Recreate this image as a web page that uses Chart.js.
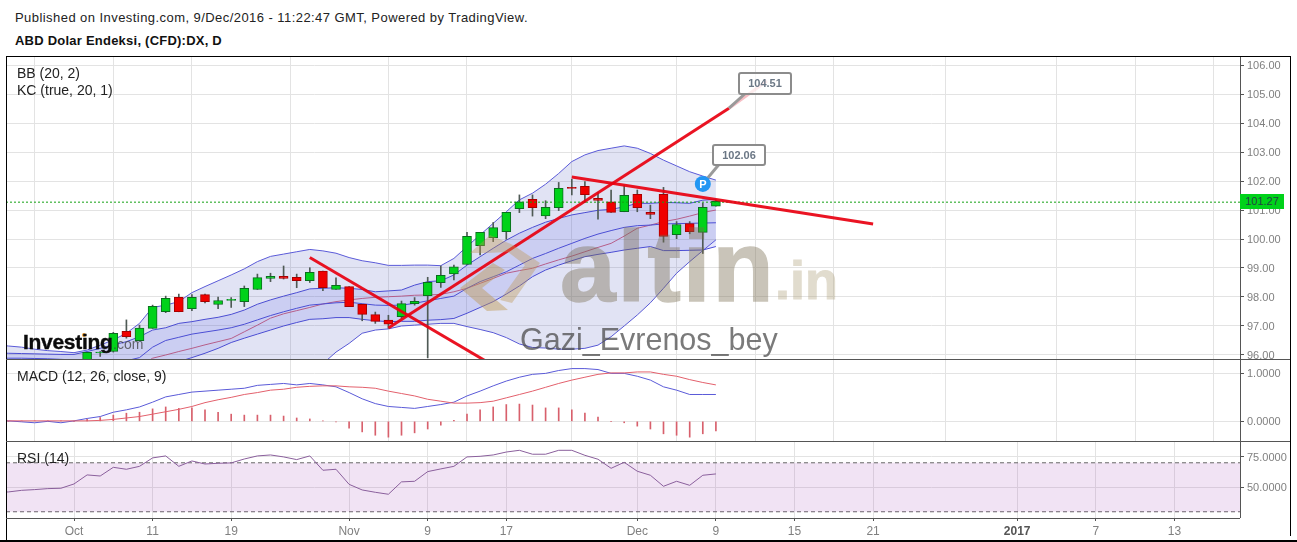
<!DOCTYPE html>
<html>
<head>
<meta charset="utf-8">
<title>ABD Dolar Endeksi</title>
<script src="https://cdn.jsdelivr.net/npm/chart.js@4"></script>
<style>
	html, body { margin: 0; padding: 0; background: #fff; overflow: hidden; }
	body { width: 1297px; height: 542px; position: relative; font-family: Arial, "Liberation Sans", sans-serif; }
	canvas { position: absolute; }
	.txt { position: absolute; white-space: nowrap; color: #222; font-size: 13px; line-height: 16px; }
	.legend { font-size: 14px; }
	.rule { position: absolute; background: #555; }
	.callout { position: absolute; box-sizing: border-box; background: #fff; border: 2px solid #8c8c8c; border-radius: 3px;
		color: #6b7785; font-size: 11px; font-weight: bold; text-align: center; }
</style>
</head>
<body>
<div class="txt" style="left:15px;top:10px;letter-spacing:.44px">Published on Investing.com, 9/Dec/2016 - 11:22:47 GMT, Powered by TradingView.</div>
<div class="txt" style="left:15px;top:33px;font-weight:bold;color:#111;letter-spacing:.23px">ABD Dolar Endeksi, (CFD):DX, D</div>

<canvas id="priceChart" style="left:6px;top:57px"></canvas>
<canvas id="macdChart" style="left:6px;top:359px"></canvas>
<canvas id="rsiChart" style="left:6px;top:441px"></canvas>

<!-- frame -->
<div class="rule" style="left:6px;top:56px;width:1285px;height:1px;background:#000"></div>
<div class="rule" style="left:6px;top:56px;width:1px;height:485px;background:#000"></div>
<div class="rule" style="left:1290px;top:56px;width:1px;height:480px;background:#000"></div>
<div class="rule" style="left:6px;top:359px;width:1284px;height:1px"></div>
<div class="rule" style="left:6px;top:441px;width:1284px;height:1px"></div>
<div class="rule" style="left:6px;top:518px;width:1234px;height:1px"></div>
<div class="rule" style="left:1240px;top:57px;width:1px;height:461px"></div>
<div class="rule" style="left:0;top:540px;width:1297px;height:2px;background:#000"></div>

<div class="txt legend" style="left:17px;top:65px">BB (20, 2)</div>
<div class="txt legend" style="left:17px;top:82px">KC (true, 20, 1)</div>
<div class="txt legend" style="left:17px;top:368px">MACD (12, 26, close, 9)</div>
<div class="txt legend" style="left:17px;top:450px">RSI (14)</div>

<!-- watermarks -->
<svg style="position:absolute;left:0;top:0" width="1297" height="542">
	<polygon points="460,288 493,263 505,270 482,288 508,310 487,311" fill="rgba(190,150,80,.45)"></polygon>
	<polygon points="470,253 490,235 513,245 540,263 512,303 500,300 525,265 508,252 487,253" fill="rgba(190,150,80,.38)"></polygon>
	<circle cx="84" cy="335" r="2" fill="#f0a030"></circle>
</svg>
<div class="txt" style="left:560px;top:211px;font-size:100px;line-height:110px;font-weight:bold;letter-spacing:2px;color:#786c50;opacity:.4;-webkit-text-stroke:1.5px #786c50">altin</div>
<div class="txt" style="left:775px;top:250px;font-size:54px;line-height:60px;font-weight:bold;color:#aa9b73;opacity:.35;-webkit-text-stroke:1px #aa9b73">.in</div>
<div class="txt" style="left:520px;top:319px;font-size:30.5px;line-height:40px;color:rgba(70,70,70,.72)">Gazi_Evrenos_bey</div>
<div class="txt" style="left:23px;top:329px;font-size:21px;line-height:26px;font-weight:bold;letter-spacing:-.3px;color:#0b0b0b;-webkit-text-stroke:.4px #0b0b0b">Investing</div>
<div class="txt" style="left:113px;top:334px;font-size:14px;line-height:20px;color:rgba(60,60,60,.75)">.com</div>

<!-- annotations -->
<div class="callout" style="left:738px;top:72px;width:54px;height:23px;line-height:19px;background:rgba(255,255,255,.7)" id="calloutHigh"></div>
<div class="callout" style="left:712px;top:144px;width:54px;height:22px;line-height:18px" id="calloutLow"></div>
<div class="txt" style="left:695px;top:176px;width:16px;text-align:center;color:#fff;font-weight:bold;font-size:11px">P</div>
<div class="txt" id="lastTag" style="left:1240px;top:194px;width:44px;height:15px;line-height:15px;background:#00d21a;color:#244;font-size:11px;text-align:center"></div>

<script>
var firstDay = -6;
var lastPrice = 101.27;

// trading days counted from 3 Oct 2016, last bar is 9 Dec
var dateTicks = [0, 6, 12, 21, 27, 33, 43, 49, 55, 61, 72, 78, 84];
var dateLabels = ['Oct', '11', '19', 'Nov', '9', '17', 'Dec', '9', '15', '21', '2017', '7', '13'];
var priceTicks = [96, 97, 98, 99, 100, 101, 102, 103, 104, 105, 106];
var macdTicks = [0, 1];
var rsiTicks = [50, 75];

// candles start at day 1
var opens = [95.8, 96.07, 96.12, 96.82, 96.49, 96.92, 97.49, 97.99, 97.6, 98.08, 97.74, 97.88, 97.84, 98.26, 98.64, 98.71, 98.68, 98.56, 98.89, 98.26, 98.36, 97.75, 97.39, 97.2, 97.32, 97.77, 98.05, 98.49, 98.8, 99.12, 99.77, 100.05, 100.25, 101.05, 101.37, 100.8, 101.08, 101.78, 101.82, 101.4, 101.28, 100.94, 101.54, 100.92, 101.54, 100.15, 100.53, 100.23, 101.13];
var closes = [96.09, 96.1, 96.75, 96.63, 96.93, 97.68, 97.95, 97.49, 97.99, 97.84, 97.88, 97.92, 98.3, 98.67, 98.71, 98.64, 98.56, 98.85, 98.32, 98.4, 97.67, 97.4, 97.16, 97.06, 97.77, 97.85, 98.51, 98.75, 99.04, 100.09, 100.23, 100.39, 100.92, 101.28, 101.08, 101.09, 101.75, 101.74, 101.53, 101.33, 100.92, 101.51, 101.08, 100.85, 100.09, 100.5, 100.25, 101.09, 101.3];
var highs = [96.09, 96.12, 96.78, 97.21, 97.03, 97.72, 98.03, 98.1, 98.08, 98.1, 98.0, 97.98, 98.38, 98.79, 98.82, 99.07, 98.79, 99.01, 98.89, 98.66, 98.36, 97.75, 97.48, 97.37, 97.86, 97.98, 98.68, 99.07, 99.1, 100.23, 100.23, 100.57, 100.92, 101.52, 101.52, 101.32, 101.95, 102.06, 101.98, 101.6, 101.69, 101.84, 101.69, 101.17, 101.78, 100.6, 100.6, 101.23, 101.35];
var lows = [95.7, 95.95, 96.1, 96.58, 96.49, 96.92, 97.46, 97.49, 97.53, 97.8, 97.6, 97.64, 97.67, 98.26, 98.53, 98.62, 98.32, 98.5, 98.22, 98.26, 97.67, 97.18, 97.09, 96.92, 97.27, 97.72, 95.9, 98.33, 98.59, 99.12, 99.45, 99.91, 99.99, 100.91, 100.79, 100.7, 100.98, 101.52, 101.25, 100.68, 100.92, 100.94, 100.94, 100.7, 99.89, 100.01, 100.18, 99.5, 101.13];

// bands start at firstDay, values under 95.86 fall below the pane
var bbUpper = [96.36, 96.31, 96.27, 96.2, 96.15, 96.12, 96.08, 96.17, 96.34, 96.52, 96.75, 97.09, 97.64, 97.72, 97.84, 98.15, 98.36, 98.56, 98.76, 98.97, 99.22, 99.4, 99.48, 99.56, 99.64, 99.59, 99.51, 99.36, 99.25, 99.18, 99.09, 99.09, 99.1, 99.1, 99.08, 99.33, 99.74, 100.14, 100.54, 100.94, 101.35, 101.58, 101.89, 102.26, 102.67, 102.9, 103.05, 103.13, 103.21, 103.13, 102.95, 102.72, 102.52, 102.32, 102.17, 102.03];
var bbLower = [95.5, 95.5, 95.5, 95.5, 95.5, 95.5, 95.5, 95.5, 95.5, 95.5, 95.5, 95.5, 95.5, 95.5, 95.5, 95.5, 95.5, 95.5, 95.5, 95.5, 95.5, 95.5, 95.5, 95.5, 95.5, 95.7, 96.1, 96.4, 96.75, 96.86, 96.9, 97.0, 97.03, 97.06, 97.09, 97.09, 96.98, 96.88, 96.77, 96.6, 96.38, 96.26, 96.24, 96.2, 96.2, 96.23, 96.34, 96.63, 97.0, 97.38, 97.8, 98.3, 98.82, 99.22, 99.6, 99.97];
var bbMid = [95.6, 95.6, 95.6, 95.6, 95.6, 95.6, 95.6, 95.6, 95.6, 95.6, 95.6, 95.6, 95.89, 96.0, 96.12, 96.23, 96.35, 96.46, 96.57, 96.8, 97.03, 97.27, 97.42, 97.53, 97.64, 97.76, 97.84, 97.9, 97.95, 97.99, 98.01, 98.03, 98.06, 98.07, 98.09, 98.18, 98.3, 98.47, 98.64, 98.82, 98.91, 98.99, 99.14, 99.28, 99.41, 99.56, 99.71, 99.85, 100.1, 100.37, 100.48, 100.6, 100.68, 100.79, 100.91, 101.0];
var kcUpper = [96.07, 96.06, 96.05, 96.04, 96.03, 96.02, 96.02, 96.12, 96.23, 96.35, 96.46, 96.63, 96.86, 96.94, 97.09, 97.15, 97.23, 97.3, 97.4, 97.55, 97.75, 97.9, 98.03, 98.15, 98.28, 98.3, 98.32, 98.3, 98.26, 98.18, 98.21, 98.24, 98.41, 98.53, 98.56, 98.76, 99.1, 99.39, 99.68, 99.96, 100.2, 100.4, 100.58, 100.71, 100.83, 100.91, 100.99, 101.02, 101.11, 101.23, 101.23, 101.26, 101.25, 101.23, 101.34, 101.37];
var kcMid = [95.89, 95.89, 95.89, 95.88, 95.87, 95.85, 95.83, 95.8, 95.78, 95.78, 95.8, 95.91, 96.27, 96.5, 96.61, 96.72, 96.79, 96.86, 96.94, 97.06, 97.21, 97.36, 97.49, 97.61, 97.72, 97.76, 97.8, 97.82, 97.77, 97.72, 97.71, 97.72, 97.78, 97.87, 97.95, 98.03, 98.3, 98.53, 98.7, 98.87, 99.1, 99.33, 99.5, 99.68, 99.85, 100.02, 100.17, 100.29, 100.4, 100.46, 100.48, 100.52, 100.53, 100.54, 100.55, 100.56];
var kcLower = [95.6, 95.6, 95.6, 95.6, 95.6, 95.6, 95.6, 95.6, 95.6, 95.6, 95.6, 95.6, 95.6, 95.6, 95.77, 95.91, 96.06, 96.23, 96.43, 96.58, 96.72, 96.86, 97.0, 97.12, 97.23, 97.25, 97.29, 97.29, 97.23, 97.18, 97.15, 97.16, 97.16, 97.2, 97.22, 97.26, 97.44, 97.64, 97.84, 98.1, 98.38, 98.7, 98.93, 99.1, 99.25, 99.39, 99.47, 99.54, 99.62, 99.68, 99.74, 99.6, 99.6, 99.61, 99.62, 99.74];

var macdLine = [0.01, 0.01, -0.01, -0.03, 0, -0.03, 0.01, 0.06, 0.1, 0.19, 0.24, 0.3, 0.4, 0.51, 0.56, 0.61, 0.63, 0.65, 0.67, 0.69, 0.75, 0.77, 0.79, 0.76, 0.79, 0.76, 0.72, 0.6, 0.47, 0.37, 0.31, 0.29, 0.27, 0.31, 0.35, 0.4, 0.53, 0.63, 0.74, 0.84, 0.92, 0.98, 1.0, 1.06, 1.1, 1.1, 1.08, 1.0, 1.0, 0.94, 0.86, 0.72, 0.65, 0.56, 0.56, 0.56];
var macdSignal = [0.01, 0.01, 0.01, 0.01, 0.01, 0.01, 0.01, 0.01, 0.02, 0.04, 0.07, 0.1, 0.15, 0.2, 0.25, 0.31, 0.39, 0.45, 0.5, 0.56, 0.6, 0.65, 0.67, 0.71, 0.73, 0.74, 0.74, 0.72, 0.71, 0.69, 0.63, 0.58, 0.53, 0.46, 0.42, 0.38, 0.38, 0.39, 0.42, 0.49, 0.56, 0.63, 0.71, 0.79, 0.86, 0.92, 0.98, 1.01, 1.01, 1.03, 1.03, 0.98, 0.94, 0.87, 0.81, 0.76];
var macdHist = [0, 0, 0.01, 0.01, 0.01, 0.01, 0, 0.04, 0.08, 0.13, 0.17, 0.19, 0.26, 0.3, 0.27, 0.28, 0.24, 0.19, 0.15, 0.13, 0.13, 0.13, 0.11, 0.07, 0.05, 0.01, -0.01, -0.14, -0.22, -0.29, -0.33, -0.29, -0.24, -0.16, -0.08, 0.02, 0.15, 0.24, 0.3, 0.35, 0.36, 0.34, 0.28, 0.28, 0.24, 0.17, 0.09, 0, -0.03, -0.1, -0.16, -0.26, -0.29, -0.33, -0.26, -0.2];
var rsiValues = [45.8, 46.2, 47.5, 48.1, 48.9, 49.2, 52.7, 60.1, 59.2, 66.3, 64.7, 67.1, 74.0, 75.6, 67.1, 71.5, 69.0, 69.6, 69.9, 73.1, 75.6, 76.4, 74.8, 72.6, 75.6, 63.9, 64.7, 52.4, 47.8, 45.9, 44.3, 54.4, 54.9, 62.8, 65.0, 67.1, 74.8, 75.3, 76.4, 78.8, 80.2, 77.0, 77.0, 80.2, 80.2, 76.1, 72.9, 65.5, 70.4, 63.1, 59.8, 50.8, 54.9, 51.6, 59.8, 60.9];
var rsiUpper = 70;
var rsiLower = 30;

// drawn trend lines, as [day, price] pairs
var trendDown = [[18, 99.36], [31.4, 95.8]];
var trendUp = [[24, 96.93], [50, 104.51]];
var trendFlat = [[38, 102.14], [61, 100.52]];
var pinnedHigh = 104.51;
var pinnedLow = 102.06;
var marker = [[48, 101.9]];
var highLeader = [[50, 104.51], [51.2, 105.0]];
var highFade = [[50, 104.51], [52.9, 105.45]];
var lowLeader = [[48, 101.9], [49.2, 102.55]];

var xMin = -5.191;
var xMax = 89.008;
var axisWidth = 50;

function series(values) {
	return values.map(function (y, k) { return { x: k + firstDay, y: y }; });
}

function pairs(list) {
	return list.map(function (p) { return { x: p[0], y: p[1] }; });
}

function xScale(showLabels) {
	return {
		type: 'linear',
		min: xMin,
		max: xMax,
		offset: false,
		afterBuildTicks: function (s) { s.ticks = dateTicks.map(function (v) { return { value: v }; }); },
		afterFit: function (s) { s.paddingLeft = 0; s.paddingRight = 0; if (showLabels) { s.height = 23; } },
		border: { display: false },
		grid: { color: '#e3e3e3', drawTicks: showLabels, tickLength: 3, tickColor: '#555' },
		ticks: {
			display: showLabels,
			autoSkip: false,
			maxRotation: 0,
			padding: 3,
			font: function (c) { return { family: 'Arial, "Liberation Sans"', size: 12, weight: c.tick && c.tick.value === 72 ? 'bold' : 'normal' }; },
			color: function (c) { return c.tick && c.tick.value === 72 ? '#555' : '#808080'; },
			callback: function (v) { return dateLabels[dateTicks.indexOf(v)]; }
		}
	};
}

function yScale(min, max, tickValues, digits) {
	return {
		position: 'right',
		min: min,
		max: max,
		afterBuildTicks: function (s) { s.ticks = tickValues.map(function (v) { return { value: v }; }); },
		afterFit: function (s) { s.width = axisWidth; s.paddingTop = 0; s.paddingBottom = 0; },
		border: { display: false },
		grid: { color: '#e3e3e3', tickLength: 4, tickColor: '#555' },
		ticks: {
			padding: 3,
			autoSkip: false,
			labelOffset: 1,
			color: '#808080',
			font: { family: 'Arial, "Liberation Sans"', size: 11 },
			callback: function (v) { return v.toFixed(digits); }
		}
	};
}

function baseOptions(x, y) {
	return {
		responsive: false,
		animation: false,
		events: [],
		layout: { padding: 0, autoPadding: false },
		plugins: { legend: { display: false }, tooltip: { enabled: false } },
		scales: { x: x, y: y }
	};
}

function line(data, color, width, extra) {
	return Object.assign({
		type: 'line',
		data: data,
		borderColor: color,
		borderWidth: width,
		pointRadius: 0,
		tension: 0,
		fill: false
	}, extra || {});
}

function size(id, w, h) {
	var c = document.getElementById(id);
	c.width = w;
	c.height = h;
	c.style.width = w + 'px';
	c.style.height = h + 'px';
	return c;
}

var days = opens.map(function (o, k) { return k + 1; });
var bodyColors = opens.map(function (o, k) { return closes[k] >= o ? '#00d21a' : '#f00000'; });
var edgeColors = opens.map(function (o, k) { return closes[k] >= o ? '#0a6e1e' : '#a80000'; });
var wicks = days.map(function (d, k) { return { x: d, y: [lows[k], highs[k]] }; });
var bodies = days.map(function (d, k) { return { x: d, y: [opens[k], closes[k]] }; });
var bandBlue = '#5a5ad8';
var keltnerBlue = '#4a4ad6';
var trendRed = 'rgba(232,0,16,.92)';

// lower dataset index is drawn on top
new Chart(size('priceChart', 1284, 302), {
	type: 'bar',
	data: {
		datasets: [
			line(pairs(marker), '#2196f3', 0, { showLine: false, pointRadius: 8, pointBackgroundColor: '#2196f3', pointBorderWidth: 0 }),
			line(pairs(lowLeader), '#9a9a9a', 3),
			line(pairs(highLeader), '#9a9a9a', 3),
			line(pairs(highFade), 'rgba(235,110,125,.45)', 3),
			line(pairs(trendDown), trendRed, 3),
			line(pairs(trendUp), trendRed, 3),
			line(pairs(trendFlat), trendRed, 3),
			line(pairs([[xMin, lastPrice], [xMax, lastPrice]]), '#12a012', 1, { borderDash: [2, 2] }),
			{ type: 'bar', data: bodies, backgroundColor: bodyColors, borderColor: edgeColors, borderWidth: 1, borderSkipped: false, barThickness: 9, grouped: false },
			{ type: 'bar', data: wicks, backgroundColor: '#4f5a55', barThickness: 1, grouped: false },
			line(series(bbUpper), bandBlue, 1, { fill: '+5', backgroundColor: 'rgba(80,90,190,.17)' }),
			line(series(kcUpper), keltnerBlue, 1, { fill: '+3', backgroundColor: 'rgba(80,90,235,.15)' }),
			line(series(kcMid), keltnerBlue, 1),
			line(series(bbMid), '#e0606c', 1),
			line(series(kcLower), keltnerBlue, 1),
			line(series(bbLower), bandBlue, 1)
		]
	},
	options: baseOptions(xScale(false), yScale(95.862, 106.276, priceTicks, 2))
});

new Chart(size('macdChart', 1284, 82), {
	type: 'bar',
	data: {
		datasets: [
			line(series(macdSignal), '#e3606c', 1),
			line(series(macdLine), '#5a5ad8', 1),
			{ type: 'bar', data: series(macdHist), backgroundColor: '#d8606c', barThickness: 1, grouped: false }
		]
	},
	options: baseOptions(xScale(false), yScale(-0.41, 1.3, macdTicks, 4))
});

new Chart(size('rsiChart', 1284, 100), {
	type: 'line',
	data: {
		datasets: [
			line(series(rsiValues), '#8a5f9c', 1),
			line(pairs([[xMin, rsiUpper], [xMax, rsiUpper]]), '#666', 1, { borderDash: [4, 3], fill: '+1', backgroundColor: 'rgba(160,70,180,.15)' }),
			line(pairs([[xMin, rsiLower], [xMax, rsiLower]]), '#666', 1, { borderDash: [4, 3] })
		]
	},
	options: baseOptions(xScale(true), yScale(24.9, 87.8, rsiTicks, 4))
});

document.getElementById('calloutHigh').textContent = pinnedHigh.toFixed(2);
document.getElementById('calloutLow').textContent = pinnedLow.toFixed(2);
document.getElementById('lastTag').textContent = lastPrice.toFixed(2);
</script>
</body>
</html>
